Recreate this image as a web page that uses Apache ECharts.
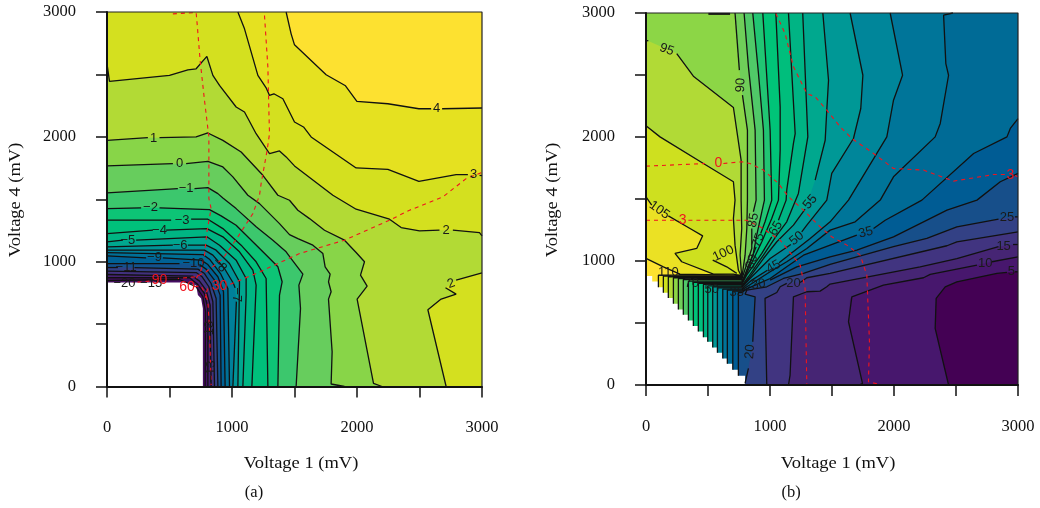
<!DOCTYPE html>
<html><head><meta charset="utf-8">
<style>html,body{margin:0;padding:0;background:#fff}#c{width:1040px;height:508px}</style>
<script src="https://cdn.jsdelivr.net/npm/echarts@6/dist/echarts.min.js"></script>
</head><body><div id="c"></div>
<script>
// ---------- Panel (a): contour lines [Voltage 1, Voltage 4], null = gap for a label
const a4=[[1433,3000],[1473,2825],[1500,2737],[1753,2497],[1908,2409],[1999,2284],[2247,2265],[2495,2225],[2593,2225],null,[2681,2225],[3000,2231]];
const a3=[[1047,3000],[1100,2865],[1207,2492],[1273,2393],[1300,2332],[1335,2345],[1407,2305],[1460,2199],[1500,2119],[1572,2079],[1633,1999],[1993,1751],[2247,1740],[2495,1644],[2793,1697],[2887,1697],null,[2980,1692],[3000,1690]];
const a2=[[0,2585],[20,2444],[500,2492],[647,2537],[713,2545],[799,2644],[847,2492],[900,2412],[1033,2239],[1100,2199],[1193,2025],[1300,1865],[1380,1887],[1433,1839],[1500,1767],[1807,1532],[1993,1420],[2260,1340],[2353,1273],[2500,1247],[2660,1252],null,[2767,1252],[2980,1233],[3000,1207],null,[3000,911],[2793,852],null,[2708,791],[2793,740],[2673,700],[2567,615],[2713,0]];
const a1=[[0,1972],[327,1993],null,[420,1993],[713,1999],[807,2031],[927,1972],[1073,1879],[1247,1692],[1367,1532],[1460,1492],[1527,1412],[1620,1345],[1740,1252],[1900,1172],[1993,1073],[2060,999],[2028,892],[2081,804],[2001,700],[2132,25],[2200,0]];
const a0=[[0,1767],[527,1785],null,[633,1785],[807,1804],[927,1759],[1007,1679],[1127,1532],[1220,1465],[1380,1305],[1460,1217],[1527,1185],[1647,1132],[1727,1065],[1745,959],[1785,900],[1772,839],[1793,759],[1772,700],[1801,279],[1793,20],[1900,0]];
const am1=[[0,1551],[567,1585],null,[700,1585],[807,1593],[887,1545],[927,1510],[1033,1425],[1193,1279],[1327,1172],[1433,1079],[1473,1025],[1567,900],[1535,812],[1548,625],[1513,0]];
const am2=[[0,1425],[273,1431],null,[420,1431],[820,1417],[913,1367],[1033,1292],[1140,1185],[1247,1079],[1367,959],[1401,839],[1380,732],[1367,0]];
const am3=[[0,1332],[513,1332],null,[673,1340],[807,1340],[927,1265],[1073,1132],[1193,999],[1273,865],[1287,0]];
const am4=[[0,1225],[367,1252],null,[473,1252],[799,1265],[927,1199],[1060,1079],[1167,932],[1193,812],[1159,0]];
const am5=[[0,1159],[127,1172],null,[233,1172],[799,1199],[900,1132],[1033,1012],[1113,865],[1113,732],[1087,0]];
const am6=[[0,1119],[527,1132],null,[647,1132],[793,1132],[873,1092],[980,985],[1060,839],[1047,0]];
const am7=[[0,1092],[780,1092],[847,1052],[940,945],[1012,825],[1025,790],null,[1035,680],[1007,0]];
const am8=[[0,1073],[767,1057],[820,1020],[908,905],[967,785],[980,0]];
const am9=[[0,1047],[313,1031],null,[447,1031],[753,1012],[807,977],[887,879],[932,759],[945,0]];
const am10=[[0,985],[580,985],null,[740,977],[793,940],[860,852],[905,732],[913,0]];
const am11=[[0,953],[87,953],null,[220,953],[727,940],[780,905],[833,825],[873,705],[887,0]];
const am12=[[0,924],[713,913],[761,879],[815,799],[847,679],[860,0]];
const am13=[[0,897],[687,884],[740,844],[793,772],[825,652],[833,0]];
const am14=[[0,871],[660,871],[727,817],[780,745],[807,625],[807,0]];
const am15=[[0,849],[580,857],[713,799],[767,719],[788,599],[785,0]];
const levelsA=[[4,a4],[3,a3],[2,a2],[1,a1],[0,a0],[-1,am1],[-2,am2],[-3,am3],[-4,am4],[-5,am5],[-6,am6],[-7,am7],[-8,am8],[-9,am9],[-10,am10],[-11,am11],[-12,am12],[-13,am13],[-14,am14],[-15,am15]];
const blankA=[[0,0],[0,833],[620,833],[713,812],[727,732],[753,705],[767,625],[767,0]];
const red60=[[527,2985],[713,2996],[719,2932],[745,2612],[780,2292],[815,1999],[815,1505],[833,1425],[799,1239],[780,1052],[753,932],[713,865],null,[700,799],[753,807],[793,732],[780,690]];
const red90=[[1260,2972],[1287,2559],[1295,2212],[1300,2025],[1281,1892],[1233,1625],[1220,1532],[1167,1385],[1047,1199],[927,1025],[793,919],[713,879],[567,865],null,[340,844],[207,833]];
const red30=[[2993,1713],[2873,1665],[2687,1519],[2420,1412],[2260,1332],[1900,1172],[1540,1065],[1193,905],[980,817],null,[807,785],[790,740],[807,679],[820,465],[833,12]];
const labelsA=[["1",372,1985,0],["0",580,1785,0],["−1",633,1585,0],["−2",348,1431,0],["−3",601,1332,0],["−4",420,1252,0],["−5",167,1172,0],["−6",585,1132,0],["−9",380,1031,0],["−10",692,985,0],["−11",153,953,0],["−20",140,822,0],["−15",353,825,0],["−7",1036,735,-90],["−8",900,972,-45],["−13",820,439,90],["−13",833,119,90],["2",2713,1252,0],["2",2753,824,20],["3",2933,1697,0],["4",2637,2225,0]];
const redLabelsA=[["90",420,855,0],["60",640,795,0],["30",900,800,0]];

// ---------- Panel (b)
const b5=[[3000,913],[2975,913],null,[2911,908],[2830,900],[2507,832],[2413,792],[2340,698],[2332,456],[2440,0]];
const b10=[[3000,1034],[2790,994],null,[2669,967],[2292,892],[2238,865],[1915,806],[1660,711],[1646,698],[1633,510],[1746,13],[1720,0]];
const b15=[[3000,1133],[2960,1133],null,[2843,1115],[2507,1020],[2211,953],[1485,814],[1458,792],[1404,757],[1297,752],[1189,711],[1162,80],[1149,0]];
const b20=[[3000,1235],[2507,1155],[2427,1123],[1485,900],[1297,865],[1243,827],null,[1135,819],[1082,792],[1055,746],[960,698],[974,0]];
const b25=[[3000,1356],[2975,1356],null,[2843,1338],[2507,1276],[2265,1182],[1996,1115],[1485,972],[1270,900],[1108,859],[974,792],[813,765],[799,733],[880,711],[861,349],null,[826,134],[799,13]];
const b30=[[3000,1706],[2857,1639],[2669,1491],[2427,1410],[2238,1316],[1996,1195],[1700,1088],[1485,1034],[1216,953],[1082,886],[1001,846],null,[839,792],[772,746],[745,746],[745,74]];
const b35=[[3000,2149],[2938,2069],[2911,2001],[2642,1867],[2225,1491],[1929,1329],[1835,1262],null,[1700,1209],[1485,1128],[1270,1047],[1135,953],[1001,859],[880,806],[772,757],[700,757],[700,123]];
const b40=[[2475,3000],[2400,2982],[2418,2592],[2440,2498],[2373,2109],[2332,2001],[1996,1679],[1889,1491],[1687,1316],[1485,1249],[1297,1101],[1135,994],[1001,913],[866,827],[772,765],[656,765],[656,171]];
const b45=[[1969,3000],[2069,2498],[1996,2297],[1942,2001],[1633,1491],[1485,1316],[1324,1182],[1135,1034],[1073,986],null,[979,926],[853,846],[772,773],[619,773],[619,214]];
const b50=[[1646,3000],[1749,2498],[1732,2230],[1673,1988],[1498,1706],[1458,1491],[1297,1289],[1256,1235],null,[1168,1133],[1001,1020],[839,859],[772,784],[576,784],[576,260]];
const b55=[[1426,3000],[1472,2458],[1458,2216],[1445,1974],[1364,1652],null,[1283,1418],[1189,1289],[1055,1155],[947,1020],[834,865],[772,792],[538,792],[538,303]];
const b60=[[1264,3000],[1305,2001],[1229,1545],[1135,1316],[1055,1209],[947,1047],[826,873],[772,800],[498,800],[498,349]];
const b65=[[1149,3000],[1203,2028],[1189,1948],[1135,1571],[1130,1491],[1068,1329],null,[1014,1195],[934,1061],[812,886],[772,811],[463,811],[463,386]];
const b70=[[1047,3000],[1082,2243],[1082,1894],[1068,1491],[1014,1343],[934,1155],[799,873],[772,819],[422,819],[422,432]];
const b75=[[942,3000],[1001,2055],[1014,1491],[960,1316],[925,1222],null,[888,1114],[799,886],[772,827],[382,827],[382,475]];
const b80=[[861,3000],[907,2512],[947,2055],[955,1491],[934,1397],[893,1209],[866,1061],[786,859],[772,838],[342,838],[342,521]];
const b85=[[791,3000],[826,2566],[880,2055],[888,1491],[866,1397],null,[853,1262],[853,1101],[772,851],[301,851],[301,566]];
const b90=[[718,3000],[753,2539],null,[778,2337],[818,2055],[818,1491],[813,1262],[799,1047],[772,859],[261,859],[261,609]];
const b95=[[0,2780],[19,2775],null,[248,2673],[382,2490],[705,2238],[767,1813],[767,1491],[772,1262],[759,1047],[772,865],[221,865],[221,655]];
const b100=[[0,2090],[113,2001],[463,1786],[705,1639],[718,1491],[705,1343],[718,1128],[745,926],[772,873],[180,873],[180,701]];
const b105=[[0,1518],[46,1450],null,[180,1364],[355,1262],[457,1203],[409,1101],[234,1061],[288,994],[544,894],[705,894],[772,878],[140,878],[140,744]];
const b110=[[0,1021],[140,953],[274,894],[705,886],[772,886],[100,886],[100,789]];
const levelsB=[[5,b5],[10,b10],[15,b15],[20,b20],[25,b25],[30,b30],[35,b35],[40,b40],[45,b45],[50,b50],[55,b55],[60,b60],[65,b65],[70,b70],[75,b75],[80,b80],[85,b85],[90,b90],[95,b95],[100,b100],[105,b105],[110,b110]];
const stubB100=[[538,1007],[651,953],[732,900]];
const stubBTop=[[503,2993],[678,2993]];
const blankStepX=[0,50,100,140,180,221,261,301,342,382,422,463,498,538,576,619,656,700,745,799];
const blankStepY=[880,835,789,744,701,655,609,566,521,475,432,386,349,303,260,214,171,123,74,13];
const redB0=[[0,1765],[476,1786],null,[624,1786],[772,1800],[839,1786],[947,1733],[1068,1625],[1149,1518],[1270,1410],[1404,1276],[1498,1195],[1620,1128],[1727,1047],[1754,967],[1781,886],[1786,752],[1802,349],[1794,26],[1902,0]];
const redB3a=[[1047,2996],[1122,2834],[1189,2566],[1297,2351],[1364,2324],[1458,2216],[1566,2082],[1660,1988],[1835,1867],[1996,1746],[2238,1733],[2480,1644],[2803,1697],[2900,1697],null,[2975,1690],[3000,1679]];
const redB3b=[[0,1329],[261,1329],null,[342,1329],[813,1329],[934,1268],[1082,1168],[1243,967],[1283,779],[1297,0]];
const labelsB=[["95",167,2705,-20],["90",764,2418,88],["105",108,1410,-35],["85",866,1329,80],["75",907,1168,70],["65",1047,1262,60],["55",1324,1477,50],["50",1216,1182,40],["45",1028,953,30],["30",907,811,10],["20",1189,819,0],["20",839,268,85],["100",624,1061,25],["110",180,905,0],["35",1773,1230,15],["25",2911,1348,0],["15",2884,1115,0],["10",2736,980,0],["5",2946,913,0],["80",853,994,70],["70",369,819,0],["50",530,771,0],["35",732,746,0]];
const redLabelsB=[["0",584,1786,0],["3",296,1329,0],["3",2938,1692,0]];
const xTitle="Voltage 1 (mV)", yTitle="Voltage 4 (mV)";
const captions=["(a)","(b)"];

// ---------- colour map
const cmap=[[0,'#440154'],[.07,'#47186e'],[.11,'#462473'],[.16,'#413480'],[.2,'#364085'],[.25,'#174f8a'],[.295,'#005c94'],[.34,'#006b96'],[.385,'#007599'],[.43,'#00859a'],[.475,'#009796'],[.52,'#00a78f'],[.57,'#00b484'],[.61,'#00be7c'],[.66,'#00c478'],[.7,'#1cc574'],[.75,'#50c968'],[.8,'#72cf58'],[.84,'#8bd646'],[.88,'#add939'],[.93,'#cde01f'],[.97,'#e5e120'],[1,'#fde130']];
function hex(c){return [1,3,5].map(i=>parseInt(c.substr(i,2),16));}
function color(t){t=Math.max(0,Math.min(1,t));for(let i=1;i<cmap.length;i++){if(t<=cmap[i][0]){const a=cmap[i-1],b=cmap[i],f=(t-a[0])/(b[0]-a[0]),p=hex(a[1]),q=hex(b[1]);return 'rgb('+p.map((v,k)=>Math.round(v+(q[k]-v)*f)).join(',')+')';}}return cmap[cmap.length-1][1];}

// ---------- series helpers
const series=[];
function poly(g,pts,fill,z){series.push({type:'custom',xAxisIndex:g,yAxisIndex:g,silent:true,animation:false,z:z,data:[[0,0]],encode:{x:0,y:1},
  renderItem:(p,api)=>({type:'polygon',shape:{points:pts.map(q=>api.coord(q))},style:{fill:fill}})});}
function line(g,pts,st,z){let seg=[];const flush=()=>{if(seg.length>1)series.push({type:'line',xAxisIndex:g,yAxisIndex:g,data:seg,showSymbol:false,symbol:'none',silent:true,animation:false,clip:false,z:z,lineStyle:st});seg=[];};
  pts.forEach(q=>{if(q===null)flush();else seg.push(q);});flush();}
function texts(g,arr,fill,size){series.push({type:'custom',xAxisIndex:g,yAxisIndex:g,silent:true,animation:false,z:37,data:arr.map(a=>[a[1],a[2]]),encode:{x:0,y:1},
  renderItem:(p,api)=>{const a=arr[p.dataIndex],c=api.coord([a[1],a[2]]);return {type:'text',x:c[0],y:c[1],rotation:a[3]*Math.PI/180,style:{text:a[0],fill:fill,font:size+'px "Liberation Sans"',align:'center',verticalAlign:'middle'}};}});}
const black={color:'#111',width:1.3,type:'solid'};
const dash={color:'#f0141e',width:1.1,type:[4,4]};

// panel (a) fills: paint the low side of each level, highest level first
const corner=[[3000,0],[0,0],[0,3000]];
poly(0,[[0,0],[3000,0],[3000,3000],[0,3000]],color(1),1);
levelsA.forEach(([lv,pts],i)=>{const p=pts.filter(q=>q);const cl=p[0][1]===3000?corner:[[0,0]];
  const t=lv===-15?0.04:Math.min(.97,(lv-1+15.5)/19+0.02);poly(0,p.concat(cl),color(t),2+i);});
poly(0,blankA,'#fff',30);
levelsA.forEach(([lv,pts])=>line(0,pts,black,31));
[red60,red90,red30].forEach(p=>line(0,p,dash,32));
line(0,[[0,3000],[3000,3000],[3000,0]],{color:'#222',width:1.2},33);
texts(0,labelsA,'#1a1a1a',13);texts(0,redLabelsA,'#f0141e',14);

// panel (b) fills: paint the high side of each level, lowest level first
poly(1,[[0,0],[3000,0],[3000,3000],[0,3000]],color(0),1);
levelsB.forEach(([lv,pts],i)=>{const p=pts.filter(q=>q);let all;
  if(p[0][0]===3000)all=[[0,3000],[3000,3000]].concat(p,[[0,0]]);
  else if(p[0][1]===3000)all=[[0,3000]].concat(p,[[0,0]]);
  else all=p.concat([[0,0]]);
  poly(1,all,color(lv===110?1:(lv+2.5)/110),2+i);});
const blankB=[[0,0],[0,blankStepY[0]]];
blankStepX.forEach((x,i)=>{if(i<blankStepX.length-1){blankB.push([blankStepX[i+1],blankStepY[i]],[blankStepX[i+1],blankStepY[i+1]]);}});
blankB.push([blankStepX[blankStepX.length-1],0]);
poly(1,blankB,'#fff',30);
levelsB.forEach(([lv,pts])=>line(1,pts,black,31));
line(1,stubB100,black,31);line(1,stubBTop,{color:'#111',width:2},31);
[redB0,redB3a,redB3b].forEach(p=>line(1,p,dash,32));
line(1,[[0,3000],[3000,3000],[3000,0]],{color:'#222',width:1.2},33);
texts(1,labelsB,'#1a1a1a',13);texts(1,redLabelsB,'#f0141e',14);

// ---------- axes
const font='"Liberation Serif"';
function axis(g,margin){return {gridIndex:g,type:'value',min:0,max:3000,interval:500,z:40,splitLine:{show:false},
  axisLine:{show:true,onZero:false,lineStyle:{color:'#111',width:2}},axisTick:{show:true,length:11,lineStyle:{color:'#111',width:1.5}},
  axisLabel:{margin:margin,fontFamily:font,fontSize:16.5,color:'#111',formatter:v=>v%1000===0?String(v):'',showMinLabel:true,showMaxLabel:true,hideOverlap:false}};}
function cap(text,x,y,rot,sx){return {type:'text',x:x,y:y,rotation:rot,scaleX:sx,silent:true,style:{text:text,font:'16.5px '+font,fill:'#111',align:'center',verticalAlign:'middle'}};}
const chart=echarts.init(document.getElementById('c'),null,{renderer:'canvas'});
chart.setOption({animation:false,backgroundColor:'#fff',
  grid:[{left:107,top:12,width:375,height:374.5},{left:646,top:13,width:372,height:372}],
  xAxis:[axis(0,33),axis(1,33)],yAxis:[axis(0,31),axis(1,31)],series:series,
  graphic:[cap(xTitle,301,464,0,1.12),cap(xTitle,838,464,0,1.12),cap(yTitle,16,200,Math.PI/2,1.12),cap(yTitle,553,200,Math.PI/2,1.12),cap(captions[0],254,493,0,1),cap(captions[1],791,493,0,1)]});
</script></body></html>
